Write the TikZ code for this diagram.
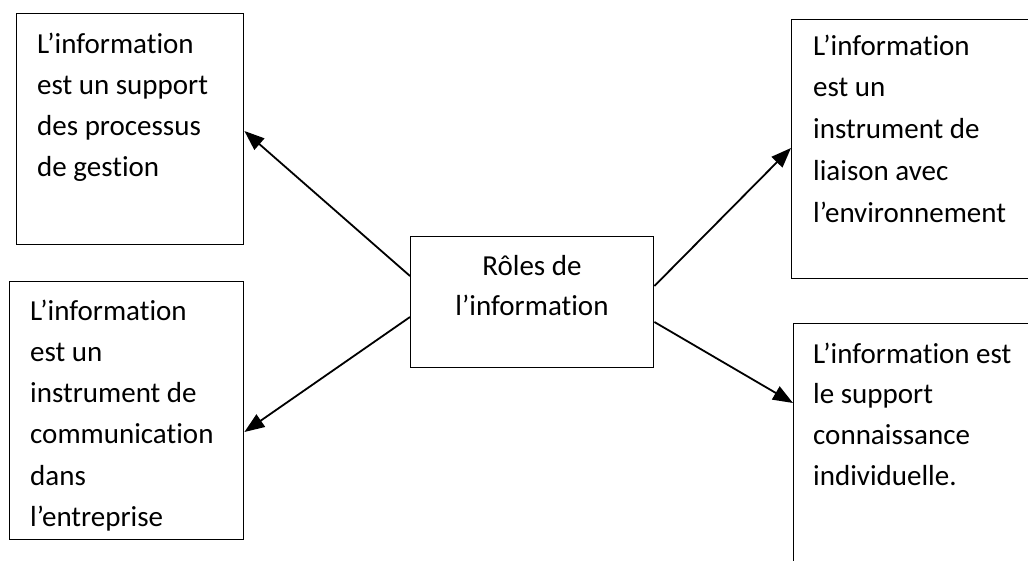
\documentclass[tikz,border=0pt]{standalone}
\usepackage{fontspec}
\setmainfont{Carlito}[Ligatures={NoCommon,NoContextual}]
\usetikzlibrary{arrows.meta,calc}
\tikzset{
  box/.style={draw=black, line width=1.4pt, inner sep=0pt, anchor=north west},
  txt/.style={inner sep=0pt, anchor=base west, font=\fontsize{29}{41.3}\selectfont},
  ctxt/.style={inner sep=0pt, anchor=base, font=\fontsize{29}{41.3}\selectfont},
  conn/.style={line width=1.8pt, -{Triangle[length=20pt,width=15pt]}}
}
\begin{document}
\begin{tikzpicture}[x=1pt,y=-1pt]
\useasboundingbox (0,0) rectangle (1028,560);
\clip (0,0) rectangle (1028,560);
\fill[white] (0,0) rectangle (1028,560);
% boxes
\node[box, minimum width=227pt, minimum height=231pt] (tl) at (16,13) {};
\node[box, minimum width=234pt, minimum height=258pt] (bl) at (9,281) {};
\node[box, minimum width=243pt, minimum height=131pt] (c) at (410,236) {};
\node[box, minimum width=249pt, minimum height=259pt] (tr) at (791,19) {};
\node[box, minimum width=247pt, minimum height=257pt] (br) at (793,323) {};
% texts
\node[txt] (tltext) at (37,53) {\vtop{\baselineskip=41.3pt\halign{#\hfil\cr L’information\cr est un support\cr des processus\cr de gestion\cr}}};
\node[txt] (bltext) at (30,320) {\vtop{\baselineskip=41.3pt\halign{#\hfil\cr L’information\cr est un\cr instrument de\cr communication\cr dans\cr l’entreprise\cr}}};
\node[ctxt] (ctext) at (532,275) {\vtop{\baselineskip=40pt\halign{\hfil#\hfil\cr Rôles de\cr l’information\cr}}};
\node[txt] (trtext) at (813,55) {\vtop{\baselineskip=41.75pt\halign{#\hfil\cr L’information\cr est un\cr instrument de\cr liaison avec\cr l’environnement\cr}}};
\node[txt] (brtext) at (813,363) {\vtop{\baselineskip=40.7pt\halign{#\hfil\cr L’information est\cr le support\cr connaissance\cr individuelle.\cr}}};
% connectors
\draw[conn] ($(c.north west)+(0,40)$) -- ($(tl.north east)+(0,118)$);
\draw[conn] ($(c.north west)+(0,81)$) -- ($(bl.north east)+(0,151)$);
\draw[conn] ($(c.north east)+(0,50)$) -- ($(tr.north west)+(0,129)$);
\draw[conn] ($(c.north east)+(0,86)$) -- ($(br.north west)+(0,80)$);
\end{tikzpicture}
\end{document}
